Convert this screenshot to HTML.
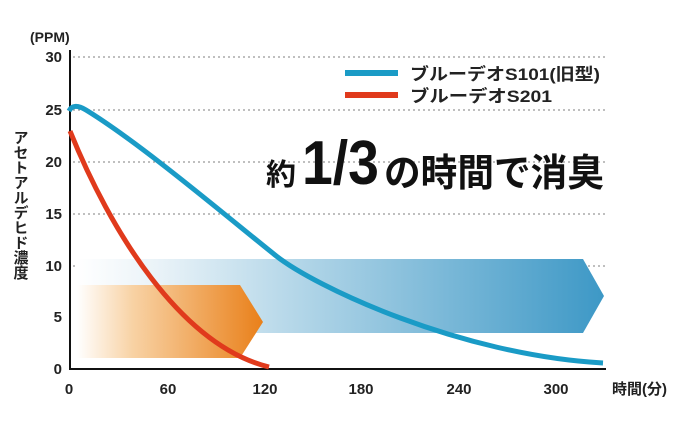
<!DOCTYPE html>
<html><head><meta charset="utf-8"><style>
body{margin:0;background:#fff;}
svg{display:block;font-family:"Liberation Sans","Noto Sans CJK JP",sans-serif;}
</style></head><body>
<svg width="690" height="426" viewBox="0 0 690 426">
<defs>
<linearGradient id="bg" x1="0" x2="1"><stop offset="0" stop-color="#fff"/><stop offset="0.15" stop-color="#eaf3f8"/><stop offset="1" stop-color="#3d98c6"/></linearGradient>
<linearGradient id="og" x1="0" x2="1"><stop offset="0" stop-color="#fff"/><stop offset="0.3" stop-color="#f8d2a4"/><stop offset="1" stop-color="#e9801a"/></linearGradient>
</defs>
<g stroke="#999" stroke-width="1.2" stroke-dasharray="2,3">
<line x1="73" y1="57" x2="606" y2="57"/><line x1="73" y1="110" x2="606" y2="110"/>
<line x1="73" y1="162" x2="606" y2="162"/><line x1="73" y1="214" x2="606" y2="214"/>
<line x1="73" y1="266" x2="606" y2="266"/>
</g>
<polygon points="77,259 583,259 604,296 583,333 77,333" fill="url(#bg)"/>
<polygon points="77,285 240,285 263,322 240,358 77,358" fill="url(#og)"/>
<line x1="70" y1="50" x2="70" y2="370" stroke="#111" stroke-width="2"/>
<line x1="69" y1="369" x2="606" y2="369" stroke="#111" stroke-width="2"/>
<path d="M69,111 C72,105 78,105 86,110 C140,143 225,215 275,255 C315,287 460,355 603,363" fill="none" stroke="#1a9bc6" stroke-width="5" stroke-linejoin="round"/>
<path d="M70,131 C110,230 180,345 269,367" fill="none" stroke="#e03a1c" stroke-width="5"/>
<g font-size="15" font-weight="bold" fill="#222" text-anchor="end">
<text x="62" y="62">30</text><text x="62" y="115">25</text><text x="62" y="167">20</text>
<text x="62" y="219">15</text><text x="62" y="271">10</text><text x="62" y="322">5</text><text x="62" y="374">0</text>
</g>
<g font-size="15" font-weight="bold" fill="#222" text-anchor="middle">
<text x="69" y="394">0</text><text x="168" y="394">60</text><text x="265" y="394">120</text>
<text x="361" y="394">180</text><text x="459" y="394">240</text><text x="556" y="394">300</text>
</g>
<text x="612" y="394" font-size="15" font-weight="bold" fill="#222">時間(分)</text>
<text x="30" y="42" font-size="14" font-weight="bold" fill="#222">(PPM)</text>
<text x="20" y="130" font-size="15" font-weight="bold" fill="#222" style="writing-mode:vertical-rl">アセトアルデヒド濃度</text>
<line x1="345" y1="73" x2="398" y2="73" stroke="#1a9bc6" stroke-width="6"/>
<line x1="345" y1="95" x2="398" y2="95" stroke="#e03a1c" stroke-width="6"/>
<text x="410" y="80" font-size="17" font-weight="bold" fill="#222" textLength="190" lengthAdjust="spacingAndGlyphs">ブルーデオS101(旧型)</text>
<text x="410" y="102" font-size="17" font-weight="bold" fill="#222" textLength="142" lengthAdjust="spacingAndGlyphs">ブルーデオS201</text>
<text x="266" y="185" font-size="30" font-weight="bold" fill="#111">約</text>
<text x="302" y="184" font-size="62" font-weight="bold" fill="#111" textLength="77" lengthAdjust="spacingAndGlyphs">1/3</text>
<text x="384" y="186" font-size="38" font-weight="bold" fill="#111" textLength="220" lengthAdjust="spacingAndGlyphs">の時間で消臭</text>
</svg>
</body></html>
